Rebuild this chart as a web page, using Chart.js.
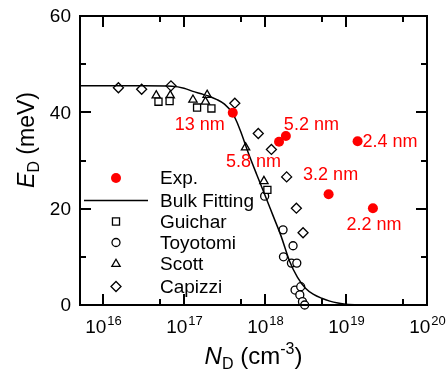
<!DOCTYPE html>
<html>
<head>
<meta charset="utf-8">
<script src="https://cdn.jsdelivr.net/npm/chart.js@4.4.1/dist/chart.umd.min.js"></script>
<style>
  html, body { margin: 0; padding: 0; background: #fff; }
  #wrap { width: 446px; height: 377px; }
</style>
</head>
<body>
<div id="wrap"><canvas id="edChart"></canvas></div>
<script>
// donor density N_D (cm^-3) vs ionization energy E_D (meV)
let expN = [4.0e17, 1.49e18, 1.81e18, 1.39e19, 6.1e18, 2.15e19];
let expE = [39.9, 33.9, 35.1, 34.0, 23.0, 20.1];
let expLabels = ["13 nm", "5.8 nm", "5.2 nm", "2.4 nm", "3.2 nm", "2.2 nm"];

let fitN = [5.2e15, 1e16, 3.2e16, 7.1e16, 1e17, 1.26e17, 1.58e17, 2e17, 2.51e17, 3.16e17,
            3.98e17, 4.47e17, 5.01e17, 6.31e17, 7.94e17, 1e18, 1.26e18, 1.58e18, 2e18, 2.51e18,
            3.16e18, 3.98e18, 5.01e18, 6.31e18, 7.94e18, 1e19, 1.58e19, 3.16e19, 1e20];
let fitE = [45.5, 45.5, 45.5, 45.4, 45.0, 44.4, 43.9, 43.4, 42.7, 41.7,
            39.8, 38.1, 36.0, 31.3, 27.0, 22.8, 18.5, 14.3, 9.2, 5.8,
            3.5, 2.2, 1.4, 0.8, 0.4, 0.15, 0.04, 0, 0];

let guicharN = [4.84e16, 6.64e16, 1.45e17, 2.18e17, 1.07e18];
let guicharE = [42.2, 42.35, 41.0, 40.8, 23.9];

let toyotomiN = [9.9e17, 1.67e18, 2.22e18, 1.69e18, 2.12e18, 2.47e18, 2.35e18, 2.76e18, 2.69e18, 2.9e18, 3.09e18];
let toyotomiE = [22.6, 15.6, 12.3, 10.0, 8.7, 8.7, 3.1, 3.8, 2.1, 0.7, 0.0];

let scottN = [4.54e16, 6.76e16, 1.29e17, 1.93e17, 1.84e17, 5.75e17, 9.7e17];
let scottE = [43.5, 43.5, 42.6, 43.6, 42.2, 32.7, 25.7];

let capizziN = [1.55e16, 3.0e16, 6.9e16, 4.24e17, 8.26e17, 1.2e18, 1.85e18, 2.44e18, 2.95e18];
let capizziE = [45.1, 44.8, 45.5, 41.9, 35.6, 32.3, 26.6, 20.1, 15.0];

let xTicks = [1e16, 1e17, 1e18, 1e19, 1e20];
let xTickExp = ["16", "17", "18", "19", "20"];
let xMinor = [5e16, 5e17, 5e18, 5e19];
let yTicks = [0, 20, 40, 60];
let yMinor = [10, 30, 50];

const FONT = "'Liberation Sans', Arial, sans-serif";
const RED = "#ff0000";

function pts(xs, ys) {
  return xs.map((x, i) => ({ x: x, y: ys[i] }));
}

function openMarker(label, xs, ys, style, r) {
  return {
    label: label,
    data: pts(xs, ys),
    showLine: false,
    pointStyle: style,
    pointRadius: r,
    pointBorderColor: "#000",
    pointBackgroundColor: "#fff",
    pointBorderWidth: 1.3,
    clip: false,
  };
}

// label text placement relative to each red point: [dx, dy, align]
const labelPos = [
  [-8, 12, "right"],
  [2, 20, "right"],
  [-2, -11, "left"],
  [5, 1, "left"],
  [2, -19, "center"],
  [1, 17, "center"],
];

function supText(ctx, base, exp, x, y, size, align) {
  ctx.font = size + "px " + FONT;
  let wb = ctx.measureText(base).width;
  let es = Math.round(size * 0.68);
  ctx.font = es + "px " + FONT;
  let we = ctx.measureText(exp).width;
  let x0 = align === "center" ? x - (wb + we) / 2 : x;
  ctx.textAlign = "left";
  ctx.font = size + "px " + FONT;
  ctx.fillText(base, x0, y);
  ctx.font = es + "px " + FONT;
  ctx.fillText(exp, x0 + wb + 1, y - size * 0.42);
}

const decorate = {
  id: "decorate",
  afterDraw(chart) {
    const ctx = chart.ctx;
    const a = chart.chartArea;
    const xs = chart.scales.x, ys = chart.scales.y;
    ctx.save();
    ctx.strokeStyle = "#000";
    ctx.fillStyle = "#000";
    ctx.lineWidth = 2;
    ctx.strokeRect(a.left, a.top, a.right - a.left, a.bottom - a.top);

    // inward ticks on all four sides
    function xTick(v, len) {
      let px = Math.round(xs.getPixelForValue(v));
      ctx.beginPath();
      ctx.moveTo(px, a.bottom); ctx.lineTo(px, a.bottom - len);
      ctx.moveTo(px, a.top); ctx.lineTo(px, a.top + len);
      ctx.stroke();
    }
    function yTick(v, len) {
      let py = Math.round(ys.getPixelForValue(v));
      ctx.beginPath();
      ctx.moveTo(a.left, py); ctx.lineTo(a.left + len, py);
      ctx.moveTo(a.right, py); ctx.lineTo(a.right - len, py);
      ctx.stroke();
    }
    xTicks.forEach(v => xTick(v, 11));
    xMinor.forEach(v => xTick(v, 6));
    yTicks.forEach(v => yTick(v, 11));
    yMinor.forEach(v => yTick(v, 6));

    // tick labels
    ctx.textBaseline = "alphabetic";
    xTicks.forEach((v, i) => {
      supText(ctx, "10", xTickExp[i], xs.getPixelForValue(v), 333, 19, "center");
    });
    ctx.font = "19px " + FONT;
    ctx.textAlign = "right";
    ctx.textBaseline = "middle";
    yTicks.forEach(v => ctx.fillText(String(v), a.left - 9, ys.getPixelForValue(v) + 1));

    // x title: N_D (cm^-3)
    ctx.textBaseline = "alphabetic";
    ctx.textAlign = "left";
    let parts = [
      ["italic 24px " + FONT, "N", 0],
      ["16px " + FONT, "D", 5],
      ["24px " + FONT, " (cm", 0],
      ["16px " + FONT, "-3", -10],
      ["24px " + FONT, ")", 0],
    ];
    let tw = 0;
    parts.forEach(p => { ctx.font = p[0]; tw += ctx.measureText(p[1]).width; });
    let cx = (a.left + a.right) / 2 - tw / 2;
    parts.forEach(p => { ctx.font = p[0]; ctx.fillText(p[1], cx, 364 + p[2]); cx += ctx.measureText(p[1]).width; });

    // y title: E_D (meV), rotated
    ctx.save();
    ctx.translate(34, 140);
    ctx.rotate(-Math.PI / 2);
    let yparts = [
      ["italic 23px " + FONT, "E", 0],
      ["16px " + FONT, "D", 5],
      ["23px " + FONT, " (meV)", 0],
    ];
    tw = 0;
    yparts.forEach(p => { ctx.font = p[0]; tw += ctx.measureText(p[1]).width; });
    cx = -tw / 2;
    yparts.forEach(p => { ctx.font = p[0]; ctx.fillText(p[1], cx, p[2]); cx += ctx.measureText(p[1]).width; });
    ctx.restore();

    // red size labels next to the Exp. points
    ctx.fillStyle = RED;
    ctx.font = "18px " + FONT;
    ctx.textBaseline = "middle";
    const meta = chart.getDatasetMeta(0);
    meta.data.forEach((pt, i) => {
      let lp = labelPos[i];
      ctx.textAlign = lp[2];
      ctx.fillText(expLabels[i], pt.x + lp[0], pt.y + lp[1]);
    });

    // legend inside the plot
    const rows = [178, 200.5, 221.5, 242.5, 264, 286.5];
    const mx = 116, tx = 160;
    ctx.font = "19px " + FONT;
    ctx.textAlign = "left";
    ctx.textBaseline = "middle";
    chart.data.datasets.forEach((ds, i) => {
      let y = rows[i];
      if (ds.showLine) {
        ctx.strokeStyle = "#000";
        ctx.lineWidth = 1.5;
        ctx.beginPath();
        ctx.moveTo(84, y); ctx.lineTo(148, y);
        ctx.stroke();
      } else {
        ctx.fillStyle = ds.pointBackgroundColor;
        ctx.strokeStyle = ds.pointBorderColor;
        ctx.lineWidth = ds.pointBorderWidth;
        Chart.helpers.drawPoint(ctx, {
          pointStyle: ds.pointStyle,
          radius: ds.pointRadius,
          rotation: 0,
          borderWidth: ds.pointBorderWidth,
        }, mx, y);
      }
      ctx.fillStyle = "#000";
      ctx.fillText(ds.label, tx, y + 1);
    });
    ctx.restore();
  },
};

new Chart(document.getElementById("edChart"), {
  type: "scatter",
  data: {
    datasets: [
      {
        label: "Exp.",
        data: pts(expN, expE),
        showLine: false,
        pointStyle: "circle",
        pointRadius: 5,
        pointBackgroundColor: RED,
        pointBorderColor: RED,
        pointBorderWidth: 0,
        clip: false,
      },
      {
        label: "Bulk Fitting",
        data: pts(fitN, fitE),
        showLine: true,
        borderColor: "#000",
        borderWidth: 1.5,
        pointRadius: 0,
        cubicInterpolationMode: "monotone",
        fill: false,
      },
      openMarker("Guichar", guicharN, guicharE, "rect", 5),
      openMarker("Toyotomi", toyotomiN, toyotomiE, "circle", 4),
      openMarker("Scott", scottN, scottE, "triangle", 4.8),
      openMarker("Capizzi", capizziN, capizziE, "rectRot", 5),
    ],
  },
  options: {
    responsive: true,
    maintainAspectRatio: false,
    animation: false,
    layout: { padding: { left: 80, top: 16, right: 19, bottom: 72 } },
    plugins: {
      legend: { display: false },
      tooltip: { enabled: false },
    },
    scales: {
      x: {
        type: "logarithmic",
        display: false,
        min: 5.2e15,
        max: 1e20,
      },
      y: {
        type: "linear",
        display: false,
        min: 0,
        max: 60,
      },
    },
  },
  plugins: [decorate],
});
</script>
</body>
</html>
